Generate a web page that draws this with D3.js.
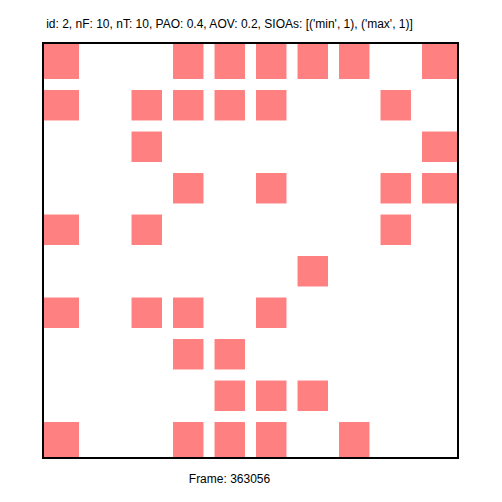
<!DOCTYPE html>
<html>
<head>
<meta charset="utf-8">
<script src="https://cdn.jsdelivr.net/npm/d3@7"></script>
<style>
  html, body { margin: 0; padding: 0; background: #fff; }
  svg { display: block; }
</style>
</head>
<body>
<svg id="chart" width="502" height="502"></svg>
<script>
const titleText = "id: 2, nF: 10, nT: 10, PAO: 0.4, AOV: 0.2, SIOAs: [('min', 1), ('max', 1)]";
const frameText = "Frame: 363056";
const rowIndex = [0, 1, 2, 3, 4, 5, 6, 7, 8, 9];
const colIndex = [0, 1, 2, 3, 4, 5, 6, 7, 8, 9];
// filled columns for each row (top to bottom)
const row0 = [0, 3, 4, 5, 6, 7, 9];
const row1 = [0, 2, 3, 4, 5, 8];
const row2 = [2, 9];
const row3 = [3, 5, 8, 9];
const row4 = [0, 2, 8];
const row5 = [6];
const row6 = [0, 2, 3, 5];
const row7 = [3, 4];
const row8 = [4, 5, 6];
const row9 = [0, 3, 4, 5, 7];
const filledRows = [row0, row1, row2, row3, row4, row5, row6, row7, row8, row9];

(function () {
const cells = [];
filledRows.forEach((cols, r) => cols.forEach(c => cells.push({ row: rowIndex[r], col: c })));

const pL = 43, pR = 458, pT = 43, pB = 458;
const x = d3.scaleLinear().domain([-0.5, 9.5]).range([pL, pR]);
const y = d3.scaleLinear().domain([-0.5, 9.5]).range([pT, pB]);
const half = 0.367; // half side of square in data units

const svg = d3.select("#chart");
const lastCol = colIndex[colIndex.length - 1];
const lastRow = rowIndex[rowIndex.length - 1];

function x0(c) { return c === colIndex[0] ? pL + 1 : x(c - half); }
function x1(c) { return c === lastCol ? pR - 1 : x(c + half); }
function y0(r) { return r === rowIndex[0] ? pT + 1 : y(r - half); }
function y1(r) { return r === lastRow ? pB - 1 : y(r + half); }

svg.append("g").selectAll("rect").data(cells).join("rect")
  .attr("x", d => x0(d.col))
  .attr("y", d => y0(d.row))
  .attr("width", d => x1(d.col) - x0(d.col))
  .attr("height", d => y1(d.row) - y0(d.row))
  .attr("fill", "#ff8080");

svg.append("rect")
  .attr("x", pL).attr("y", pT)
  .attr("width", pR - pL).attr("height", pB - pT)
  .attr("fill", "none").attr("stroke", "#000").attr("stroke-width", 2);

svg.append("text")
  .attr("x", 229.5).attr("y", 27.5)
  .attr("text-anchor", "middle")
  .attr("font-family", "Liberation Sans, Arial, sans-serif")
  .attr("font-size", 12)
  .attr("fill", "#000")
  .text(titleText);

svg.append("text")
  .attr("x", 229.5).attr("y", 482.5)
  .attr("text-anchor", "middle")
  .attr("font-family", "Liberation Sans, Arial, sans-serif")
  .attr("font-size", 12)
  .attr("fill", "#000")
  .text(frameText);
})();
</script>
</body>
</html>
